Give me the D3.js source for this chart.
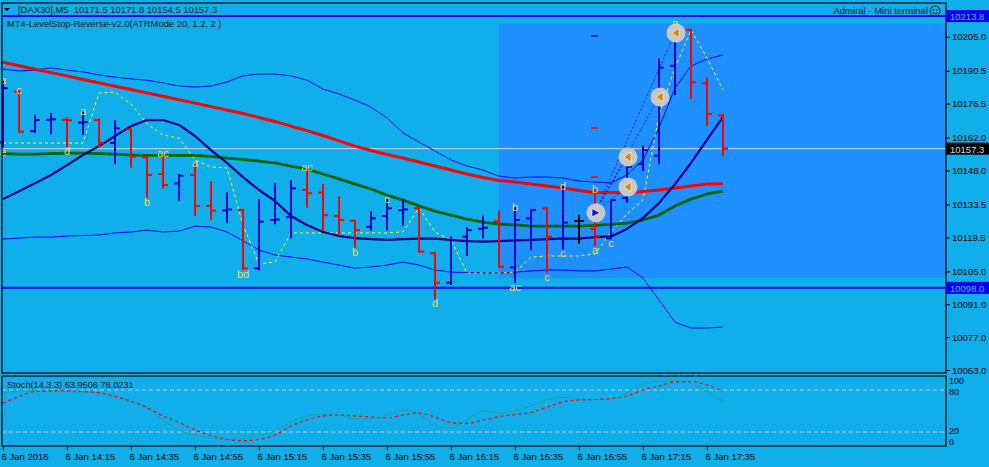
<!DOCTYPE html>
<html>
<head>
<meta charset="utf-8">
<script src="https://cdn.jsdelivr.net/npm/d3@7"></script>
<style>
    body { margin: 0; background: #10aeea; }
    svg text { font-family: "Liberation Sans", Arial, sans-serif; }
</style>
</head>
<body>
<svg id="chart" width="989" height="467"></svg>
<script>
// OHLC, M5 bars, 13:55 .. 17:40
const barOpen  = [10160.0,10181.6,10164.8,10169.6,10169.6,10168.4,10169.5,10159.8,10165.5,10153.6,10146.5,10142.5,10146.1,10132.9,10131.0,10131.2,
                  10106.3,10126.9,10128.1,10139.7,10138.6,10128.6,10126.6,10124.0,10128.6,10131.1,10131.9,10112.7,10100.2,10119.8,10123.2,10126.5,
                  10106.7,10127.6,10131.9,10119.1,10126.5,10123.1,10119.1,10136.3,10150.8,10154.3,10192.6,10207.9,10185.1,10171.5];
const barHigh  = [10186.0,10181.8,10171.2,10172.1,10170.1,10173.0,10169.8,10169.1,10165.5,10153.9,10155.0,10146.1,10150.8,10143.0,10138.3,10131.2,
                  10135.4,10142.2,10143.5,10148.9,10141.8,10136.6,10126.6,10130.2,10135.4,10135.4,10131.9,10113.0,10119.5,10123.4,10128.4,10130.5,
                  10131.9,10131.2,10131.9,10141.1,10128.6,10139.7,10135.4,10155.3,10158.1,10195.4,10210.4,10207.9,10187.3,10171.8];
const barLow   = [10158.0,10164.5,10164.5,10163.8,10158.4,10163.5,10158.1,10151.1,10149.6,10136.8,10140.8,10135.4,10129.0,10127.2,10126.2,10105.9,
                  10105.9,10125.5,10119.5,10132.6,10122.6,10120.5,10115.5,10122.9,10122.9,10124.8,10113.4,10093.5,10099.6,10112.0,10119.5,10107.0,
                  10100.6,10114.4,10104.9,10114.8,10117.2,10116.3,10119.1,10134.7,10148.2,10151.1,10180.6,10178.8,10167.4,10154.5];
const barClose = [10183.1,10164.5,10169.5,10169.8,10169.4,10168.6,10159.8,10166.0,10153.9,10146.1,10141.8,10145.8,10132.9,10130.9,10131.4,10106.3,
                  10126.2,10127.1,10140.4,10138.3,10129.0,10126.9,10122.6,10127.6,10131.9,10131.4,10113.4,10100.2,10118.4,10122.6,10123.6,10107.0,
                  10126.9,10131.2,10119.8,10125.8,10126.5,10120.1,10135.4,10149.6,10156.7,10191.8,10206.7,10185.6,10172.1,10157.3];

// indicator buffers (one value per bar)
const maRed   = [10194.1,10192.6,10191.1,10189.7,10188.3,10186.8,10185.4,10183.9,10182.5,10181.0,10179.6,10178.1,10176.7,10175.2,10173.8,10172.3,
                 10170.6,10168.9,10166.9,10165.0,10162.9,10160.6,10158.4,10156.5,10154.8,10153.3,10151.6,10149.9,10148.2,10146.5,10145.0,10143.7,
                 10143.1,10142.2,10141.4,10140.5,10139.5,10138.6,10138.6,10138.6,10139.0,10139.7,10140.5,10141.4,10142.2,10142.4];
const maGreen = [10155.2,10155.0,10155.0,10155.2,10155.4,10155.4,10155.2,10155.0,10154.6,10154.4,10154.4,10154.4,10154.4,10154.0,10153.3,10152.7,
                 10152.0,10151.2,10149.9,10148.6,10146.5,10144.4,10142.2,10140.1,10137.5,10135.4,10132.9,10130.7,10129.0,10127.3,10126.0,10125.2,
                 10124.8,10124.3,10124.3,10124.3,10124.3,10124.6,10125.0,10125.6,10126.9,10129.0,10132.9,10135.8,10138.0,10139.2];
const maNavy  = [10135.8,10139.2,10142.6,10146.1,10150.3,10154.6,10158.4,10162.7,10166.9,10169.5,10169.5,10167.4,10162.7,10156.7,10151.2,10145.2,
                 10139.7,10135.0,10128.6,10124.8,10121.8,10120.1,10119.2,10118.8,10118.4,10118.8,10119.0,10119.0,10118.4,10117.9,10117.7,10117.9,
                 10118.2,10118.4,10118.8,10119.0,10119.0,10119.6,10119.9,10123.1,10127.7,10134.1,10142.2,10151.2,10161.0,10170.8];
const bandUp  = [10191.2,10190.4,10190.8,10191.7,10190.8,10190.0,10188.7,10187.8,10187.0,10186.5,10185.3,10184.0,10183.6,10184.0,10185.7,10188.3,
                 10189.1,10189.1,10188.3,10186.5,10182.7,10180.6,10178.0,10175.0,10170.4,10164.0,10160.1,10156.3,10152.5,10149.9,10148.2,10145.6,
                 10144.8,10145.2,10145.2,10144.8,10143.5,10143.1,10142.7,10146.1,10152.5,10166.1,10183.1,10192.5,10195.5,10197.2];
const bandDn  = [10118.8,10119.2,10119.6,10119.6,10120.1,10120.3,10120.5,10121.4,10121.8,10122.6,10121.8,10122.2,10124.3,10123.9,10121.8,10118.0,
                 10114.1,10112.0,10111.1,10110.3,10109.0,10107.7,10106.4,10106.9,10107.7,10109.0,10107.7,10105.6,10104.7,10104.5,10104.3,10104.3,
                 10104.7,10105.2,10105.6,10105.6,10105.2,10105.2,10106.0,10106.9,10102.2,10092.8,10083.4,10080.9,10080.9,10081.3];
const levelStop = [10159.7,10159.7,10159.7,10159.7,10159.7,10159.7,10181.0,10181.4,10176.3,10167.8,10163.1,10161.8,10152.5,10149.5,10149.1,10124.8,
                   10108.2,10109.0,10121.4,10121.4,10121.4,10121.4,10121.4,10121.4,10121.4,10121.8,10132.0,10121.8,10118.4,10104.3,10104.3,10104.3,
                   10104.7,10111.1,10111.6,10111.6,10111.6,10112.4,10121.8,10129.5,10135.4,10171.6,10191.7,10207.9,10195.9,10182.3];

// Stoch(14,3,3)
const stochK = [75.7,78.6,79.0,78.6,77.9,77.1,76.1,71.4,62.9,54.3,37.1,22.9,15.7,11.4,9.3,10.0,
                14.3,21.4,34.3,42.9,45.7,44.3,38.6,38.6,44.3,51.4,45.7,28.6,25.7,37.1,50.0,47.1,
                50.0,57.1,66.4,69.3,67.9,66.4,66.4,75.7,88.6,91.9,93.3,89.3,77.6,63.9506];
const stochD = [61.0,70.7,77.9,78.6,79.0,77.9,76.1,70.7,64.3,55.0,42.9,33.6,22.9,15.0,9.3,7.6,
                9.3,15.7,28.6,37.1,42.9,44.3,42.9,41.4,40.0,44.3,47.1,41.4,33.6,32.4,37.1,41.9,
                45.0,47.9,55.7,62.9,65.7,66.4,67.9,71.4,80.0,85.7,91.4,91.9,87.1,78.0231];
const stochLevels = [100, 80, 20, 0];

// axes
const priceTicks = [10205.0,10190.5,10176.5,10162.0,10148.0,10133.5,10119.5,10105.0,10091.0,10077.0,10063.0];
const timeTickBars = [0,4,8,12,16,20,24,28,32,36,40,44];
const timeLabels = ["6 Jan 2016","6 Jan 14:15","6 Jan 14:35","6 Jan 14:55","6 Jan 15:15","6 Jan 15:35",
                    "6 Jan 15:55","6 Jan 16:15","6 Jan 16:35","6 Jan 16:55","6 Jan 17:15","6 Jan 17:35"];

// horizontal levels drawn by the terminal
const hLevels = [10213.8, 10098.0];
const lastPrice = 10157.3;
const zoneBars = [31, 45];
const zonePrices = [10210.5, 10102.3];

// wave letters of the indicator
const waveBars  = [0, 1, 0, 4, 5, 10, 9, 12, 15, 19, 22, 24, 27, 32, 32, 34, 35, 35, 37, 37, 38, 42];
const waveText  = ["a","c","e","d","a","ac","b","a","bd","ac","b","c","d","b","ac","c","d","c","b","a","c","a"];
const waveSide  = ["h","h","l","l","h","h","l","h","l","h","l","h","l","h","l","l","h","l","h","l","l","h"];

// trade markers
const tradeBars   = [37, 39, 39, 41, 42];
const tradePrices = [10130.0, 10141.0, 10153.8, 10179.3, 10206.6];
const tradeSide   = ["buy","close","close","close","close"];
const orderPrices = [10205.3, 10166.1, 10145.2];
const orderSide   = ["buy","sell","sell"];


class MiniChart {

    constructor(params) {
        this.d3 = params.d3;
        this.svg = params.svg;
        this.left = 2;
        this.right = 946;

        this.x = d3.scaleLinear().domain([0, barClose.length - 1]).range([3, 723]);
        this.y = d3.scaleLinear().domain([10063, 10205]).range([370, 36.7]);
        this.ys = d3.scaleLinear().domain([0, 100]).range([446, 376]);

        this.render();
        return this;
    }

    render() {
        let svg = this.svg;

        svg.append('rect')
            .attr('width', 989).attr('height', 467)
            .attr('fill', '#10aeea');

        this.main = svg.append('g');
        this.sub = svg.append('g');

        this.renderZone();
        this.renderLevels();
        this.renderLines();
        this.renderBars();
        this.renderTrades();
        this.renderWaves();
        this.renderStoch();
        this.renderAxes();
        this.renderTexts();
    }

    renderZone() {
        let x = this.x, y = this.y;
        this.main.append('rect')
            .attr('x', x(zoneBars[0]))
            .attr('y', y(zonePrices[0]))
            .attr('width', this.right - x(zoneBars[0]))
            .attr('height', y(zonePrices[1]) - y(zonePrices[0]))
            .attr('fill', '#1e90ff');
    }

    renderLevels() {
        let y = this.y;
        this.main.selectAll('line.hlevel')
            .data(hLevels)
            .enter().append('line')
            .attr('class', 'hlevel')
            .attr('x1', this.left).attr('x2', this.right)
            .attr('y1', d => y(d)).attr('y2', d => y(d))
            .attr('stroke', '#0000f0')
            .attr('stroke-width', 2);

        this.main.append('line')
            .attr('x1', this.left).attr('x2', this.right)
            .attr('y1', y(lastPrice)).attr('y2', y(lastPrice))
            .attr('stroke', '#d0d8e0')
            .attr('stroke-width', 1);
    }

    renderLines() {
        let x = this.x, y = this.y;

        let line = d3.line()
            .x((d, i) => x(i))
            .y(d => y(d));

        // keep order: thin bands first, then MAs on top
        let sets = [
            {data: bandUp,    stroke: '#0000ee', width: 1},
            {data: bandDn,    stroke: '#0000ee', width: 1},
            {data: levelStop, stroke: '#ffff00', width: 1, dash: '3,3'},
            {data: maGreen,   stroke: '#006400', width: 2.8},
            {data: maRed,     stroke: '#ff0000', width: 3},
            {data: maNavy,    stroke: '#000085', width: 2.2}
        ];

        sets.forEach(s => {
            this.main.append('path')
                .attr('d', line(s.data))
                .attr('fill', 'none')
                .attr('stroke', s.stroke)
                .attr('stroke-width', s.width)
                .attr('stroke-dasharray', s.dash || null)
                .attr('stroke-linejoin', 'round');
        });
    }

    renderBars() {
        let x = this.x, y = this.y;

        let color = i => barClose[i] > barOpen[i] ? '#0000d0' : (barClose[i] < barOpen[i] ? '#ff0000' : '#000000');

        let g = this.main.selectAll('g.bar')
            .data(barClose.map((c, i) => i))
            .enter().append('g')
            .attr('class', 'bar')
            .attr('stroke', i => color(i))
            .attr('stroke-width', 2);

        g.append('line')
            .attr('x1', i => x(i)).attr('x2', i => x(i))
            .attr('y1', i => y(barHigh[i]) - 1).attr('y2', i => y(barLow[i]) + 1);
        g.append('line')
            .attr('x1', i => x(i) - 5).attr('x2', i => x(i))
            .attr('y1', i => y(barOpen[i])).attr('y2', i => y(barOpen[i]));
        g.append('line')
            .attr('x1', i => x(i)).attr('x2', i => x(i) + 5)
            .attr('y1', i => y(barClose[i])).attr('y2', i => y(barClose[i]));
    }

    renderTrades() {
        let x = this.x, y = this.y;

        // dotted links from the entry to each exit
        tradeBars.forEach((b, i) => {
            if (i == 0) return;
            this.main.append('line')
                .attr('x1', x(tradeBars[0])).attr('y1', y(tradePrices[0]))
                .attr('x2', x(b)).attr('y2', y(tradePrices[i]))
                .attr('stroke', '#1a1ae6')
                .attr('stroke-width', 1)
                .attr('stroke-dasharray', '2,2');
        });

        orderPrices.forEach((p, i) => {
            this.main.append('line')
                .attr('x1', x(37) - 4).attr('x2', x(37) + 3)
                .attr('y1', y(p)).attr('y2', y(p))
                .attr('stroke', orderSide[i] == 'buy' ? '#0000d0' : '#ff0000')
                .attr('stroke-width', 1.5);
        });

        let m = this.main.selectAll('g.trade')
            .data(tradeBars)
            .enter().append('g')
            .attr('class', 'trade')
            .attr('transform', (b, i) => `translate(${x(b) + 1},${y(tradePrices[i])})`);

        m.append('circle')
            .attr('r', 9.5)
            .attr('fill', '#c8c8c8');

        m.append('path')
            .attr('d', (b, i) => tradeSide[i] == 'buy' ? 'M-4,-4L4,0L-4,4Z' : 'M3,-5L-4,0L3,5Z')
            .attr('fill', (b, i) => tradeSide[i] == 'buy' ? '#1010e0' : '#d08a10')
            .attr('stroke', '#ffffff')
            .attr('stroke-width', 0.6);
    }

    renderWaves() {
        let x = this.x, y = this.y;
        this.main.selectAll('text.wave')
            .data(waveBars)
            .enter().append('text')
            .attr('class', 'wave')
            .attr('x', b => x(b))
            .attr('y', (b, i) => waveSide[i] == 'h' ? y(barHigh[b]) + 3 : y(barLow[b]) + 9)
            .attr('text-anchor', 'middle')
            .attr('font-size', 11)
            .attr('fill', '#ecdc60')
            .text((b, i) => waveText[i]);
    }

    renderStoch() {
        let x = this.x, ys = this.ys;

        this.sub.selectAll('line.lvl')
            .data([80, 20])
            .enter().append('line')
            .attr('x1', this.left).attr('x2', this.right)
            .attr('y1', d => ys(d)).attr('y2', d => ys(d))
            .attr('stroke', '#c8c8c8')
            .attr('stroke-dasharray', '4,3');

        let line = d3.line()
            .x((d, i) => x(i))
            .y(d => ys(d))
            .curve(d3.curveMonotoneX);

        this.sub.append('path')
            .attr('d', line(stochK))
            .attr('fill', 'none')
            .attr('stroke', '#22a39a')
            .attr('stroke-width', 1);

        this.sub.append('path')
            .attr('d', line(stochD))
            .attr('fill', 'none')
            .attr('stroke', '#ff0000')
            .attr('stroke-width', 1.2)
            .attr('stroke-dasharray', '3,3');
    }

    renderAxes() {
        let svg = this.svg;

        // panel frames
        svg.append('rect')
            .attr('x', this.left).attr('y', 3)
            .attr('width', this.right - this.left).attr('height', 370)
            .attr('fill', 'none').attr('stroke', '#000').attr('stroke-width', 1.2);
        svg.append('rect')
            .attr('x', this.left).attr('y', 376)
            .attr('width', this.right - this.left).attr('height', 70)
            .attr('fill', 'none').attr('stroke', '#000').attr('stroke-width', 1.2);

        let yAxis = d3.axisRight(this.y)
            .tickValues(priceTicks)
            .tickFormat(d3.format('.1f'))
            .tickSize(4)
            .tickPadding(2);

        let ga = svg.append('g')
            .attr('transform', `translate(${this.right},0)`)
            .call(yAxis);
        ga.select('.domain').remove();
        ga.selectAll('text').attr('font-size', 9.5).attr('fill', '#000').attr('font-family', '"Liberation Sans", Arial, sans-serif');

        let xAxis = d3.axisBottom(this.x)
            .tickValues(timeTickBars)
            .tickFormat((d, i) => timeLabels[i])
            .tickSize(4)
            .tickPadding(3);

        let gx = svg.append('g')
            .attr('transform', 'translate(0,446)')
            .call(xAxis);
        gx.select('.domain').remove();
        gx.selectAll('text')
            .attr('text-anchor', 'start')
            .attr('dx', -2)
            .attr('font-size', 9.5)
            .attr('fill', '#000')
            .attr('font-family', '"Liberation Sans", Arial, sans-serif');

        // stoch scale labels, 100 and 0 pushed inside like the terminal does
        svg.selectAll('text.slvl')
            .data(stochLevels)
            .enter().append('text')
            .attr('class', 'slvl')
            .attr('x', this.right + 3)
            .attr('y', d => this.ys(d) + (d == 100 ? 8 : d == 80 ? 4.5 : d == 20 ? 2 : -1.5))
            .attr('font-size', 9)
            .text(d => d);

        // value boxes on the price scale
        let boxes = [
            {v: hLevels[0], fill: '#0000f0', text: '#58b8ff'},
            {v: lastPrice,  fill: '#000000', text: '#c8e0e0'},
            {v: hLevels[1], fill: '#0000f0', text: '#58b8ff'}
        ];
        boxes.forEach(b => {
            svg.append('rect')
                .attr('x', this.right).attr('y', this.y(b.v) - 6)
                .attr('width', 43).attr('height', 12)
                .attr('fill', b.fill);
            svg.append('text')
                .attr('x', this.right + 4).attr('y', this.y(b.v) + 4)
                .attr('font-size', 9.5)
                .attr('fill', b.text)
                .text(d3.format('.1f')(b.v));
        });
    }

    renderTexts() {
        let svg = this.svg;
        let last = a => a[a.length - 1];

        svg.append('path')
            .attr('d', 'M4,8L10,8L7,11Z')
            .attr('fill', '#000');

        svg.append('text')
            .attr('x', 18).attr('y', 13)
            .attr('font-size', 9.4)
            .attr('fill', '#101820')
            .attr('xml:space', 'preserve')
            .text('[DAX30],M5  ' + [barOpen, barHigh, barLow, barClose].map(a => d3.format('.1f')(last(a))).join(' '));

        svg.append('text')
            .attr('x', 7).attr('y', 27)
            .attr('font-size', 9.4)
            .attr('fill', '#101820')
            .text('MT4-LevelStop-Reverse-v2.0(ATRMode 20, 1.2, 2 )');

        svg.append('text')
            .attr('x', 7).attr('y', 388)
            .attr('font-size', 9.2)
            .attr('fill', '#101820')
            .text(`Stoch(14,3,3) ${last(stochK).toFixed(4)} ${last(stochD).toFixed(4)}`);

        svg.append('text')
            .attr('x', 928).attr('y', 14)
            .attr('text-anchor', 'end')
            .attr('font-size', 9.5)
            .attr('fill', '#101820')
            .text('Admiral - Mini terminal');

        let face = svg.append('g').attr('transform', 'translate(935,11)');
        face.append('circle').attr('r', 5).attr('fill', 'none').attr('stroke', '#101820');
        face.append('circle').attr('cx', -2).attr('cy', -1).attr('r', 0.8).attr('fill', '#101820');
        face.append('circle').attr('cx', 2).attr('cy', -1).attr('r', 0.8).attr('fill', '#101820');
        face.append('path').attr('d', 'M-2.5,1.5Q0,4 2.5,1.5').attr('fill', 'none').attr('stroke', '#101820');
    }
}

new MiniChart({d3: d3, svg: d3.select('#chart')});
</script>
</body>
</html>
